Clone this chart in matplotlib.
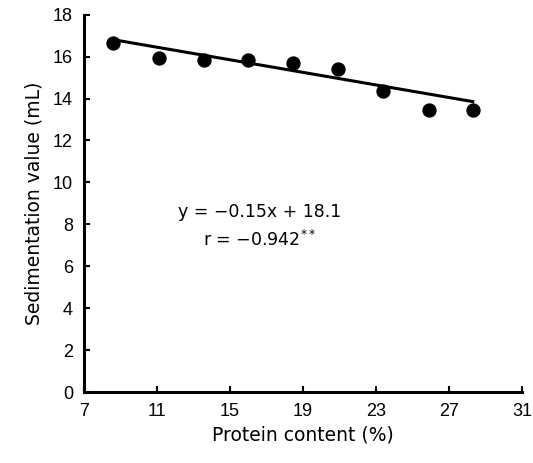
import matplotlib
matplotlib.use("Agg")
import matplotlib.pyplot as plt
import numpy as np

plt.rcParams['font.family'] = ['DejaVu Sans']
plt.rcParams['mathtext.default'] = 'regular'

# protein content (%) vs sedimentation value (mL)
protein = [8.6, 11.1, 13.6, 16.0, 18.45, 20.9, 23.4, 25.9, 28.3]
sedim = [16.65, 15.93, 15.84, 15.84, 15.70, 15.41, 14.36, 13.45, 13.45]

# regression line
slope = -0.15
intercept = 18.1
r_value = -0.942

xticks = [7, 11, 15, 19, 23, 27, 31]
yticks = [0, 2, 4, 6, 8, 10, 12, 14, 16, 18]

fig = plt.figure(figsize=(5.33, 4.63), dpi=100)
ax = fig.add_axes([0.1576, 0.1533, 0.8218, 0.8149])

ax.plot(protein, sedim, 'o', color='black', markersize=9.3, zorder=3)
xl = np.array([protein[0], protein[-1]])
ax.plot(xl, slope * xl + intercept, color='black', linewidth=2.2)

ax.text(16.6, 8.6, 'y = \u22120.15x + 18.1', ha='center', va='center', fontsize=12.5)
ax.text(16.6, 7.25, 'r = \u2212%.3f$^{**}$' % abs(r_value), ha='center', va='center', fontsize=12.5)

ax.set_xlim(7, 31)
ax.set_ylim(0, 18)
ax.set_xticks(xticks)
ax.set_yticks(yticks)
ax.tick_params(direction='in', length=4, width=1.5, labelsize=13, pad=8)
for lab in ax.get_xticklabels() + ax.get_yticklabels():
    lab.set_family('Liberation Sans')

for s in ['top', 'right']:
    ax.spines[s].set_visible(False)
for s in ['left', 'bottom']:
    ax.spines[s].set_linewidth(2.2)

ax.set_xlabel('Protein content (%)', fontsize=13.5, labelpad=4)
ax.set_ylabel('Sedimentation value (mL)', fontsize=13.5, labelpad=7)

fig.savefig('out.png', dpi=100)
